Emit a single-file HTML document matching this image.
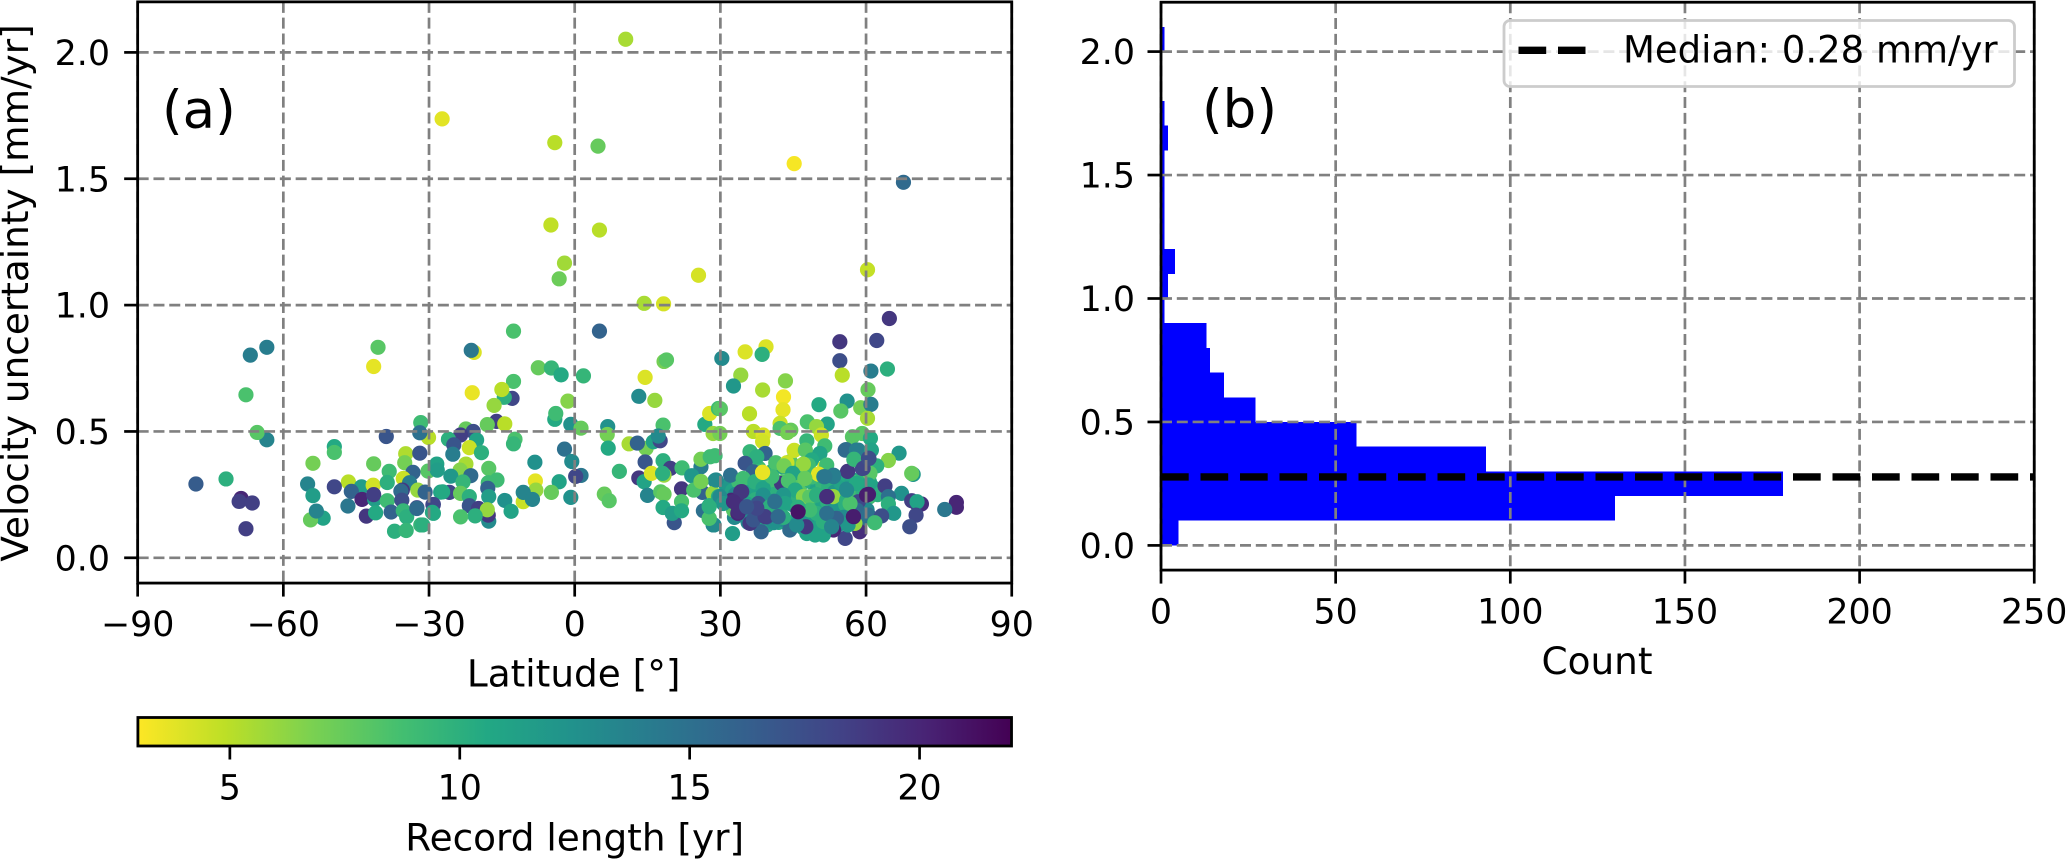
<!DOCTYPE html>
<html lang="en">
<head>
<meta charset="utf-8">
<title>Velocity uncertainty vs latitude</title>
<style>
html,body{margin:0;padding:0;background:#fff;}
svg{display:block;}
text{font-family:"DejaVu Sans","Liberation Sans",sans-serif;fill:#000;}
</style>
</head>
<body>
<svg id="fig" xmlns="http://www.w3.org/2000/svg" width="2067" height="859" viewBox="0 0 2067 859">
<defs>
<linearGradient id="viridisR" x1="0" x2="1" y1="0" y2="0">
<stop offset="0" stop-color="#fde725"/><stop offset="0.1" stop-color="#bddf26"/><stop offset="0.2" stop-color="#7ad151"/><stop offset="0.3" stop-color="#44bf70"/><stop offset="0.4" stop-color="#22a884"/><stop offset="0.5" stop-color="#21918c"/><stop offset="0.6" stop-color="#2a788e"/><stop offset="0.7" stop-color="#355f8d"/><stop offset="0.8" stop-color="#414487"/><stop offset="0.9" stop-color="#482475"/><stop offset="1" stop-color="#440154"/>
</linearGradient>
</defs>
<g id="layer"></g>
</svg>
<script>
// Panel (a) data: latitude [deg], velocity uncertainty [mm/yr], record length [yr]
const latitude = [
31.2,32.5,33.8,35.1,36.4,37.6,38.9,40.1,41.4,42.6,
43.9,45.1,46.3,47.5,48.7,49.9,51.1,52.3,53.5,54.7,
55.9,57.1,58.3,59.5,60.7,31.8,33.1,34.6,35.9,37.2,
38.5,39.8,41,42.3,43.6,44.9,46.1,47.3,48.6,49.7,
50.9,52.1,53.4,54.6,55.8,57,58.2,59.4,60.6,32.9,
34.3,35.7,37,38.2,39.6,40.8,42,43.2,44.6,45.8,
47,48.2,49.3,50.6,51.8,53,54.2,55.4,56.6,57.8,
59,60.2,61.3,62.4,37.9,40.5,42.8,44.4,46.7,48.9,
10.5,-27.3,-4.1,4.8,45.2,67.7,-4.9,5.1,-2.1,-3.2,
25.5,60.3,14.3,18.3,-63.4,-66.8,-67.7,-63.4,-65.4,-78,
-71.8,-68.7,-69.1,-66.4,-67.7,-40.5,-41.4,-31.7,-30.1,-31.9,
-38.8,-49.5,-49.5,-53.9,-41.4,-34.8,-35,-31.9,-38.2,-33.3,
-30.2,-28.5,-46.6,-55,-53.9,-49.5,-43.9,-41.5,-35.3,-38.6,
-34,-35.5,-35.8,-46,-32.3,-30.8,-27.6,-43.8,-41.2,-41.4,
-38.6,-35.6,-29.2,-46.7,-51.8,-54.4,-53.2,-42.9,-41,-37.8,
-35.3,-29.1,-34.6,-32.5,-32.5,-31.7,-37.1,-34.7,-12.6,-20.7,
-21.3,-21.1,-12.6,-12.9,-14.5,-15,-16.6,-7.5,-4.8,-2.8,
1.8,-1.4,-4.1,-3.9,-0.8,1.3,-16.1,-18,-14.4,-22.4,
-20.9,-23.5,-26,-20.2,-24.9,-21.7,-25.1,-19.2,-12.3,-12.6,
-28.4,-28.3,-22.4,-23.6,-17.7,-25.5,-21.4,-16,-23,-17.8,
-17.9,-8.2,-8.1,-3.2,-8,-4.8,-10.6,-25.8,-27.2,-23.5,
-21.7,-17.7,-14.4,-10.6,-8.7,-0.8,-29.1,-21.7,-19.8,-17.7,
-17.8,-18,-20.5,-23.5,-13.1,-29.3,-31.3,-2.1,-0.6,1.3,
0.2,5.1,13.2,16.5,14.5,18.4,18.9,18.2,6.8,6.7,
6.9,11.2,14.7,12.9,16.2,17.6,17.2,9.2,14.5,18.2,
19.7,22.1,13.2,14.3,15.8,18.4,18.1,15,17.7,18.4,
22,22,20.5,18.2,20.1,22,6.1,7.1,26,24.1,
26,27.9,28.9,28.9,26.3,24.5,28.5,26,26.8,27.8,
29.6,28.5,29.9,26.5,27.7,28.7,27.7,29.6,64.8,62.2,
54.6,54.6,55.1,61,64.4,60.4,56.1,54.8,58.9,61,
60.3,50.3,30.3,34.2,32.7,35.1,39.4,38.6,43.4,38.7,
43,42.9,36,30,42.3,36.8,38.8,38.7,42.3,44.5,
43.8,47.9,52,49.8,50.8,57.2,59.2,60.9,47.8,51.5,
45.2,47.5,50.5,55.9,58.4,61.1,66.8,64.6,62.2,60.6,
57.5,59.2,56.2,60.8,69.7,69.4,39.2,36.1,37.5,35.1,
36.8,41.4,43.7,43.1,38.7,48.8,48.1,47.1,51.5,51.9,
50.2,51.3,53.3,44.9,47.4,42.6,44,32.1,29.1,34.7,
37.1,38.8,40.6,45.4,43,47.1,48.4,49.8,53.2,52,
56,60.1,60.5,63.9,67.3,64.6,64.6,65.7,69.4,71.4,
70.4,70.5,70.3,69,78.6,78.6,76.2,60.5,58.4,58.1,
60.5,63.2,61.8,58.7,57.7,57.4,55.7,56.3,53.3,52.9,
53.9,51.2,49.5,47.8,47.6,45.7,44.3,51.2,49.8,48.4,
51.9,46,42.1,41,39.5,38.4,36.1,37.5,35.4,32.7,
33.6,34.4,32.3,34.2,29.9,30.6,28.5,27.7,27.7,32.5,
41.1,43.3,38.8,37.8,40.2,56,58,56.7,46,43,
33.7,34.4,32.7,36.8,39.2,37.5,35.4,41.9,41.2,45.7,
46,52.9,51.9,57.4,56,60.1,55.7,58,53.3,51.5,
38.7,57.5,59.4,60.5
];
const uncertainty = [
0.285,0.265,0.30,0.29,0.27,0.31,0.29,0.26,0.28,0.30,
0.29,0.31,0.28,0.33,0.30,0.27,0.29,0.28,0.26,0.30,
0.33,0.31,0.30,0.32,0.30,0.22,0.25,0.24,0.21,0.23,
0.20,0.23,0.25,0.19,0.24,0.21,0.23,0.18,0.22,0.25,
0.20,0.22,0.19,0.24,0.21,0.25,0.20,0.26,0.24,0.16,
0.17,0.14,0.15,0.17,0.13,0.16,0.14,0.15,0.12,0.15,
0.12,0.14,0.11,0.13,0.11,0.14,0.13,0.16,0.14,0.17,
0.15,0.19,0.28,0.25,0.355,0.34,0.36,0.38,0.35,0.32,
2.052,1.737,1.643,1.629,1.56,1.486,1.317,1.297,1.166,1.104,
1.118,1.14,1.007,1.005,0.833,0.802,0.645,0.467,0.496,0.292,
0.312,0.235,0.223,0.217,0.115,0.833,0.757,0.535,0.476,0.495,
0.48,0.44,0.417,0.374,0.372,0.412,0.376,0.414,0.342,0.338,
0.343,0.36,0.30,0.292,0.246,0.281,0.281,0.287,0.314,0.298,
0.297,0.268,0.264,0.263,0.268,0.26,0.26,0.231,0.231,0.25,
0.226,0.228,0.21,0.205,0.157,0.15,0.185,0.165,0.178,0.181,
0.186,0.176,0.162,0.198,0.195,0.13,0.105,0.108,0.897,0.813,
0.821,0.653,0.698,0.631,0.635,0.666,0.603,0.752,0.751,0.724,
0.72,0.62,0.548,0.571,0.528,0.513,0.54,0.527,0.53,0.51,
0.50,0.486,0.469,0.466,0.447,0.436,0.41,0.416,0.469,0.451,
0.371,0.347,0.371,0.347,0.354,0.323,0.325,0.308,0.30,0.297,
0.275,0.378,0.304,0.301,0.268,0.259,0.222,0.259,0.261,0.255,
0.242,0.242,0.227,0.259,0.231,0.239,0.211,0.206,0.195,0.145,
0.169,0.19,0.166,0.162,0.184,0.18,0.13,0.43,0.381,0.326,
0.322,0.897,0.639,0.623,0.714,0.777,0.783,0.525,0.519,0.488,
0.434,0.451,0.433,0.454,0.459,0.463,0.482,0.342,0.379,0.384,
0.354,0.356,0.316,0.301,0.334,0.327,0.334,0.247,0.261,0.252,
0.273,0.222,0.139,0.199,0.176,0.186,0.252,0.226,0.36,0.325,
0.39,0.40,0.404,0.306,0.259,0.268,0.255,0.302,0.528,0.571,
0.591,0.492,0.492,0.186,0.206,0.13,0.156,0.242,0.947,0.86,
0.855,0.78,0.723,0.739,0.747,0.665,0.62,0.581,0.594,0.607,
0.552,0.606,0.789,0.723,0.68,0.815,0.835,0.805,0.70,0.664,
0.637,0.586,0.57,0.59,0.532,0.50,0.486,0.46,0.512,0.505,
0.496,0.538,0.529,0.519,0.486,0.479,0.492,0.473,0.463,0.443,
0.425,0.426,0.413,0.428,0.426,0.426,0.414,0.385,0.364,0.393,
0.388,0.354,0.342,0.334,0.33,0.334,0.413,0.42,0.40,0.374,
0.34,0.376,0.376,0.364,0.338,0.387,0.367,0.371,0.36,0.367,
0.331,0.321,0.327,0.334,0.314,0.294,0.305,0.327,0.308,0.314,
0.301,0.275,0.321,0.268,0.248,0.242,0.242,0.248,0.242,0.242,
0.272,0.281,0.288,0.284,0.255,0.242,0.213,0.176,0.226,0.213,
0.215,0.222,0.169,0.123,0.219,0.2,0.191,0.251,0.222,0.189,
0.169,0.166,0.139,0.103,0.136,0.162,0.077,0.13,0.11,0.123,
0.156,0.09,0.09,0.096,0.123,0.13,0.11,0.143,0.176,0.189,
0.176,0.186,0.16,0.139,0.162,0.103,0.136,0.176,0.213,0.189,
0.176,0.202,0.228,0.261,0.242,0.215,0.13,0.156,0.202,0.096,
0.224,0.215,0.248,0.215,0.202,0.228,0.294,0.215,0.2,0.16,
0.183,0.262,0.222,0.15,0.163,0.196,0.202,0.163,0.222,0.13,
0.182,0.123,0.242,0.163,0.268,0.248,0.426,0.426,0.321,0.321,
0.338,0.39,0.354,0.394
];
const recordLength = [
12,11,9,10,11,8.5,10,12,9,8,
11,9,8,8.5,10,11,9.5,10,12,11,
10.5,11,9,10,10.5,12,13,11,12,10,
11,12,10,11,9,11,10,12,9.5,10,
11,10,12,11,10,9,11,10,9,13,
14,13,12,13,11,12,11,13,12,11,
11,12,10.5,11,11,12,14,13,12,14,
15,13,11,10,9,10,11,8,8.5,9,
5.5,3.8,5,7.5,3.2,15.5,4.8,5,5.7,7.3,
4.2,4.7,5.5,4.2,14,14,8.5,13.5,8,16.5,
10,20,18.5,18.5,18.5,8,3.7,9,5,15,
17,10.5,8.5,7,7.5,5.3,7,17,9,16,
8,11,5,13.5,11.5,18,11.5,4.3,4.5,10,
14,19,15.5,16,6,16,11,20,11.5,18.5,
9,17.5,18.5,14.5,11,7.5,13.5,19,10.5,16,
9.5,10.5,10,18,15.5,9.5,10,9.5,8.5,4,
14.5,3.6,8.5,18,10,5,6,7.5,9.5,10.5,
9.5,6.5,10.5,9,12.5,7.5,18.5,7.5,5,7.5,
17.5,18.5,10,11,17,4.5,14,10,8.5,9.5,
11,11.5,5.5,6.5,8,12,15.5,9,9.5,9,
16,12.5,3.7,11,6,7.5,4.5,18,10.5,7.5,
10,11.5,12.5,13.5,13.5,12.5,18,17,18.5,13,
19,6,10,8.5,11,10.5,10,15,13,14.5,
18,16,13,6,4,7,8,8.5,12.5,7,
10.5,5.5,7,16,11,18,13,9.5,17,10,
18.5,9,19,11,4,6,10,13.5,8,7.5,
19,8.5,17,10.5,11.5,10.5,7.5,8,14,12,
7,9,9,13,16,8.5,6,7,10.5,4,
9,6,7,15,10.5,13,8.5,10,19,18,
19,17.5,5,14,10,7.5,12.5,8,7,14,
5.5,10.5,13,6,12,4,4,10,6.5,5.5,
3.3,3.7,5,8,4.5,5,4,4.3,8.5,7.5,
7,8.5,11,6,4.5,8,8,10.5,9.5,9,
4.5,8,11,15,13.5,11,12,6.5,10,18,
9.5,18,19,8,12,7.5,16,9.5,10,17,
16,8.5,4.5,7,3.6,10.5,9,6,4,9,
3.8,13,14.5,11,7.5,19,8.5,15,13,9,
10,11,9,10.5,12,6.5,8,10,6,19,
13,8.5,11,18.5,12.5,15,10,12,18.5,19.5,
18.5,11,18,17.5,20,20,14.5,20.5,18,15.5,
15,17.5,9,19.5,6,20.5,18,12,20,13.5,
16,11,11,11,19,13.5,15.5,10,10,9,
15,20.5,15.5,12.5,18,16,19,19,11,8,
20,19.5,20,19,13,12,13,8.5,10,11.5,
14,11,12.5,17,10,10,10.5,8.5,10,10,
19.5,19,19.5,17,18.5,18,17,15.5,15,13,
21,13.5,19.5,20.5,13,20.5,15.5,14,14,14.5,
3.6,9.5,18,17.5
];

// Panel (b) data: histogram of uncertainty
const binLower = [0,0.1,0.2,0.3,0.4,0.5,0.6,0.7,0.8,0.9,1.0,1.1,1.2,1.3,1.4,1.5,1.6,1.7,1.8,1.9,2.0];
const binCounts = [5,130,178,93,56,27,18,14,13,1,2,4,1,1,1,1,2,1,0,0,1];
const binWidth = 0.1;
const medianValue = 0.28;

// Ticks
const latTicks = [-90,-60,-30,0,30,60,90];
const uncTicks = [0,0.5,1,1.5,2];
const countTicks = [0,50,100,150,200,250];
const recTicks = [5,10,15,20];

// Axis functions
const xA = v => 574.7 + v * 4.856;
const yA = v => 557.8 - v * 252.7;
const xB = v => 1161 + v * 3.493;
const yB = v => 545.4 - v * 246.9;
const xC = v => 137.9 + (v - 3) * 45.98;

const viridis = [[68,1,84],[72,36,117],[65,68,135],[53,95,141],[42,120,142],[33,145,140],[34,168,132],[68,191,112],[122,209,81],[189,223,38],[253,231,37]];
function colorFor(rec){
  const t = Math.max(0, Math.min(1, (22 - rec) / 19)) * 10;
  const i = Math.min(9, Math.floor(t));
  const f = t - i;
  const a = viridis[i], b = viridis[i + 1];
  return 'rgb(' + [0,1,2].map(k => Math.round(a[k] + (b[k] - a[k]) * f)).join(',') + ')';
}

const NS = 'http://www.w3.org/2000/svg';
const root = document.getElementById('layer');
function mk(tag, attrs, parent){
  const e = document.createElementNS(NS, tag);
  for (const k in attrs) e.setAttribute(k, attrs[k]);
  (parent || root).appendChild(e);
  return e;
}
const GRID = '#808080', TICKW = 2.7, TICKL = 13.5, GW = 2.7;
const TICK_FONT = 34.8, LABEL_FONT = 37.4, LETTER_FONT = 53;

function gridLine(x1, y1, x2, y2, name){
  const l = mk('line', {x1, y1, x2, y2, stroke: GRID, 'stroke-width': GW, 'stroke-dasharray': '11 4.8'});
  
  
}
function tickMark(x1, y1, x2, y2, name){
  const l = mk('line', {x1, y1, x2, y2, stroke: '#000', 'stroke-width': TICKW});
  
  
}
function label(txt, x, y, size, anchor, name, rotate){
  const attrs = {x, y, 'font-size': size, 'text-anchor': anchor};
  if (rotate) attrs.transform = 'rotate(-90 ' + x + ' ' + y + ')';
  const t = mk('text', attrs);
  t.textContent = txt;
  
  
}
function frame(x, y, w, h, name){
  const r = mk('rect', {x, y, width: w, height: h, fill: 'none', stroke: '#000', 'stroke-width': 2.8});
  
  
}
const fmtSigned = v => (v < 0 ? '\u2212' + Math.abs(v) : String(v));

// Panel (a) scatter
const A = {l: xA(-90), r: xA(90), t: yA(2.2), b: yA(-0.1)};
latitude.forEach((lat, i) => {
  const c = mk('circle', {cx: xA(lat), cy: yA(uncertainty[i]), r: 7.6, fill: colorFor(recordLength[i])});
  
  
});
latTicks.forEach(v => {
  gridLine(xA(v), A.t, xA(v), A.b, 'panel-a-vertical-gridline');
  tickMark(xA(v), A.b, xA(v), A.b + TICKL, 'panel-a-x-tick');
  label(fmtSigned(v), xA(v), 636, TICK_FONT, 'middle', 'panel-a-x-tick-label');
});
uncTicks.forEach(v => {
  gridLine(A.l, yA(v), A.r, yA(v), 'panel-a-horizontal-gridline');
  tickMark(A.l - TICKL, yA(v), A.l, yA(v), 'panel-a-y-tick');
  label(v.toFixed(1), 110, yA(v) + 12.6, TICK_FONT, 'end', 'panel-a-y-tick-label');
});
frame(A.l, A.t, A.r - A.l, A.b - A.t, 'panel-a-frame');
label('(a)', 162, 128, LETTER_FONT, 'start', 'panel-a-letter');
label('Latitude [\u00b0]', xA(0) - 1, 686.5, LABEL_FONT, 'middle', 'x-axis-title-latitude');
label('Velocity uncertainty [mm/yr]', 28, 293, LABEL_FONT, 'middle', 'y-axis-title-uncertainty', true);

// Panel (b) histogram
const B = {l: xB(0), r: xB(250), t: yB(2.2), b: yB(-0.1)};
binCounts.forEach((n, i) => {
  if (!n) return;
  const r = mk('rect', {x: xB(0), y: yB(binLower[i] + binWidth), width: xB(n) - xB(0), height: yB(binLower[i]) - yB(binLower[i] + binWidth), fill: '#0000ff', 'shape-rendering': 'crispEdges'});
  
  
});
countTicks.forEach(v => {
  gridLine(xB(v), B.t, xB(v), B.b, 'panel-b-vertical-gridline');
  tickMark(xB(v), B.b, xB(v), B.b + TICKL, 'panel-b-x-tick');
  label(String(v), xB(v), 623.3, TICK_FONT, 'middle', 'panel-b-x-tick-label');
});
uncTicks.forEach(v => {
  gridLine(B.l, yB(v), B.r, yB(v), 'panel-b-horizontal-gridline');
  tickMark(B.l - TICKL, yB(v), B.l, yB(v), 'panel-b-y-tick');
  label(v.toFixed(1), 1135, yB(v) + 12.6, TICK_FONT, 'end', 'panel-b-y-tick-label');
});
const med = mk('line', {x1: B.l, y1: yB(medianValue) + 0.7, x2: B.r, y2: yB(medianValue) + 0.7, stroke: '#000', 'stroke-width': 7.4, 'stroke-dasharray': '27.7 11.8'});


frame(B.l, B.t, B.r - B.l, B.b - B.t, 'panel-b-frame');
label('(b)', 1202, 127, LETTER_FONT, 'start', 'panel-b-letter');
label('Count', 1597, 674, LABEL_FONT, 'middle', 'x-axis-title-count');

// Legend
const legendGroup = mk('g', {});


const legendBox = mk('rect', {x: 1504, y: 20.5, width: 510.5, height: 66, rx: 6, fill: 'rgba(255,255,255,0.8)', stroke: '#cccccc', 'stroke-width': 2.8}, legendGroup);


const legendLine = mk('line', {x1: 1518.5, y1: 50.3, x2: 1585.5, y2: 50.3, stroke: '#000', 'stroke-width': 7.4, 'stroke-dasharray': '27.7 11.8'}, legendGroup);


const legendText = mk('text', {x: 1623, y: 62.7, 'font-size': 37}, legendGroup);
legendText.textContent = 'Median: ' + medianValue.toFixed(2) + ' mm/yr';



// Colorbar
const cbar = mk('rect', {x: xC(3), y: 717.5, width: xC(22) - xC(3), height: 28.5, fill: 'url(#viridisR)'});


frame(xC(3), 717.5, xC(22) - xC(3), 28.5, 'colorbar-frame');
recTicks.forEach(v => {
  tickMark(xC(v), 746, xC(v), 746 + TICKL, 'colorbar-tick');
  label(String(v), xC(v), 799.3, TICK_FONT, 'middle', 'colorbar-tick-label');
});
label('Record length [yr]', xA(0), 850.5, LABEL_FONT, 'middle', 'colorbar-title');
</script>
</body>
</html>
